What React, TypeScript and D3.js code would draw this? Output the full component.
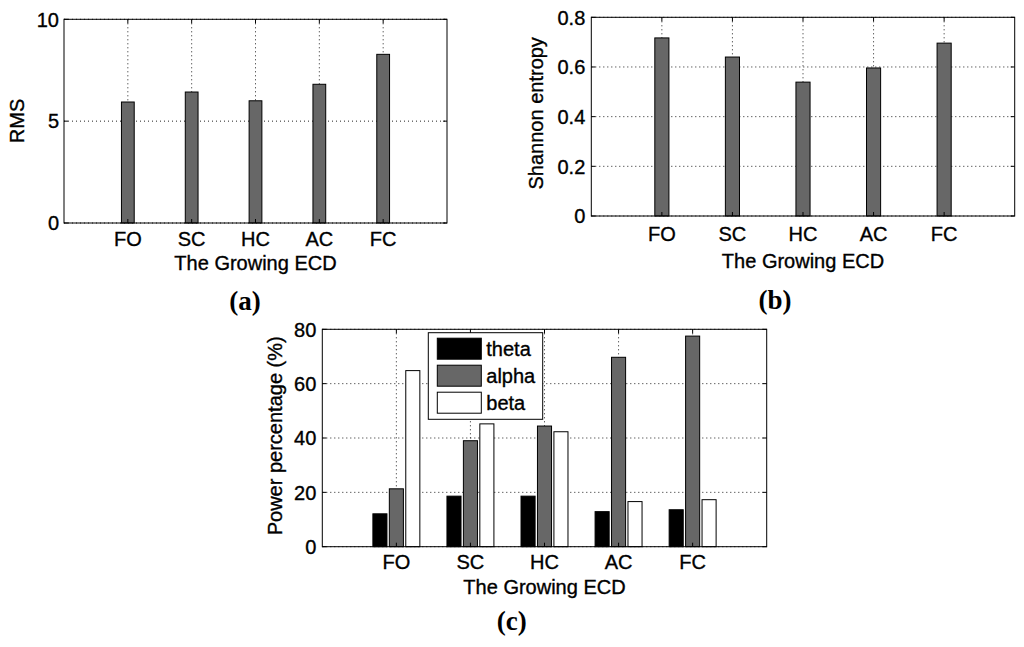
import React from "react";
import * as d3 from "d3";

const categories = ["FO", "SC", "HC", "AC", "FC"];
const rmsValues = [5.94, 6.43, 6.0, 6.81, 8.28];
const entropyValues = [0.717, 0.64, 0.539, 0.596, 0.696];
const thetaValues = [12.1, 18.6, 18.6, 12.9, 13.6];
const alphaValues = [21.3, 39.0, 44.4, 69.7, 77.5];
const betaValues = [64.8, 45.2, 42.3, 16.6, 17.3];
const seriesNames = ["theta", "alpha", "beta"];
const rmsTicks = [0, 5, 10];
const entropyTicks = [0, 0.2, 0.4, 0.6, 0.8];
const powerTicks = [0, 20, 40, 60, 80];
const xLabel = "The Growing ECD";

const FONT = "'Liberation Sans', Arial, sans-serif";
const SERIF = "'Liberation Serif', 'Times New Roman', serif";
const GRAY = "#676767";
const seriesFill = ["#000000", GRAY, "#ffffff"];
const TXT = { fontFamily: FONT, fontSize: 20, fill: "#000", stroke: "#000", strokeWidth: 0.35 };

type Series = { name: string; values: number[]; fill: string };

type PanelProps = {
  box: { x0: number; y0: number; x1: number; y1: number };
  yMax: number;
  yTicks: number[];
  tickFmt: (v: number) => string;
  series: Series[];
  barWidth: number;
  offsets: number[];
  yLabel: string;
  yLabelX: number;
  yLabelY: number;
  xTickBaseline: number;
  xLabelBaseline: number;
  yTickGap: number;
  tag: string;
  tagX: number;
  tagY: number;
  legend?: { x: number; y: number; w: number; h: number };
};

function Panel(p: PanelProps) {
  const { box } = p;
  const x = d3.scaleLinear().domain([0, categories.length + 1]).range([box.x0, box.x1]);
  const y = d3.scaleLinear().domain([0, p.yMax]).range([box.y1, box.y0]);
  const tickLen = 4;
  const xMid = (box.x0 + box.x1) / 2;
  return (
    <g>
      {categories.map((c, i) => (
        <line key={"vg" + c} x1={x(i + 1)} x2={x(i + 1)} y1={box.y0} y2={box.y1}
          stroke="#222" strokeWidth={1} strokeDasharray="1 3" />
      ))}
      {p.yTicks.map((t) => (
        <line key={"hg" + t} x1={box.x0} x2={box.x1} y1={y(t)} y2={y(t)}
          stroke="#222" strokeWidth={1} strokeDasharray="1 3" />
      ))}
      {p.series.map((s, si) =>
        s.values.map((v, i) => {
          const cx = i + 1 + p.offsets[si];
          const xa = x(cx - p.barWidth / 2);
          const xb = x(cx + p.barWidth / 2);
          return (
            <rect key={s.name + i} x={xa} y={y(v)} width={xb - xa} height={y(0) - y(v)}
              fill={s.fill} stroke="#000" strokeWidth={1} />
          );
        })
      )}
      {categories.map((c, i) => (
        <g key={"xt" + c}>
          <line x1={x(i + 1)} x2={x(i + 1)} y1={box.y1} y2={box.y1 - tickLen} stroke="#000" />
          <line x1={x(i + 1)} x2={x(i + 1)} y1={box.y0} y2={box.y0 + tickLen} stroke="#000" />
          <text x={x(i + 1)} y={p.xTickBaseline} textAnchor="middle" {...TXT}>{c}</text>
        </g>
      ))}
      {p.yTicks.map((t) => (
        <g key={"yt" + t}>
          <line x1={box.x0} x2={box.x0 + tickLen} y1={y(t)} y2={y(t)} stroke="#000" />
          <line x1={box.x1} x2={box.x1 - tickLen} y1={y(t)} y2={y(t)} stroke="#000" />
          <text x={box.x0 - p.yTickGap} y={y(t)} dy="0.36em" textAnchor="end" {...TXT}>{p.tickFmt(t)}</text>
        </g>
      ))}
      <rect x={box.x0} y={box.y0} width={box.x1 - box.x0} height={box.y1 - box.y0} fill="none" stroke="#000" strokeWidth={1} />
      {p.legend && (
        <g>
          <rect x={p.legend.x} y={p.legend.y} width={p.legend.w} height={p.legend.h} fill="#fff" stroke="#000" strokeWidth={1} />
          {p.series.map((s, si) => {
            const rowH = 27;
            const cy = p.legend!.y + 16 + si * rowH;
            return (
              <g key={"lg" + s.name}>
                <rect x={p.legend!.x + 9} y={cy - 10.5} width={44} height={21} fill={s.fill} stroke="#000" strokeWidth={1} />
                <text x={p.legend!.x + 58} y={cy + 7.5} {...TXT}>{s.name}</text>
              </g>
            );
          })}
        </g>
      )}
      <text x={xMid} y={p.xLabelBaseline} textAnchor="middle" {...TXT}>{xLabel}</text>
      <text transform={`translate(${p.yLabelX},${p.yLabelY}) rotate(-90)`} textAnchor="middle" {...TXT}>{p.yLabel}</text>
      <text x={p.tagX} y={p.tagY} textAnchor="middle" fontFamily={SERIF} fontSize={27} fontWeight="bold" fill="#000">
        ({p.tag})
      </text>
    </g>
  );
}

export default function App() {
  const fmt0 = (v: number) => d3.format("d")(v);
  const fmtE = (v: number) => (v === 0 ? "0" : d3.format(".1f")(v));
  return (
    <svg width={1024} height={647} style={{ position: "absolute", left: 0, top: 0, background: "#fff" }}>
      <rect x={0} y={0} width={1024} height={647} fill="#fff" />
      <Panel
        box={{ x0: 64, y0: 19.3, x1: 447, y1: 223 }}
        yMax={10} yTicks={rmsTicks} tickFmt={fmt0}
        series={[{ name: "rms", values: rmsValues, fill: GRAY }]}
        barWidth={0.2} offsets={[0]}
        yLabel="RMS" yLabelX={24} yLabelY={121}
        xTickBaseline={246} xLabelBaseline={270} yTickGap={5}
        tag="a" tagX={245} tagY={310}
      />
      <Panel
        box={{ x0: 591.3, y0: 17.3, x1: 1014.7, y1: 216 }}
        yMax={0.8} yTicks={entropyTicks} tickFmt={fmtE}
        series={[{ name: "entropy", values: entropyValues, fill: GRAY }]}
        barWidth={0.2} offsets={[0]}
        yLabel="Shannon entropy" yLabelX={543} yLabelY={113.3}
        xTickBaseline={240.7} xLabelBaseline={268} yTickGap={6}
        tag="b" tagX={775} tagY={309}
      />
      <Panel
        box={{ x0: 322.3, y0: 329.3, x1: 766.7, y1: 546.7 }}
        yMax={80} yTicks={powerTicks} tickFmt={fmt0}
        series={[
          { name: seriesNames[0], values: thetaValues, fill: seriesFill[0] },
          { name: seriesNames[1], values: alphaValues, fill: seriesFill[1] },
          { name: seriesNames[2], values: betaValues, fill: seriesFill[2] },
        ]}
        barWidth={0.19} offsets={[-0.222, 0, 0.222]}
        yLabel="Power percentage (%)" yLabelX={282} yLabelY={435.8}
        xTickBaseline={569.3} xLabelBaseline={594} yTickGap={6}
        tag="c" tagX={511.7} tagY={630}
        legend={{ x: 428.3, y: 332.7, w: 114.4, h: 86.6 }}
      />
    </svg>
  );
}
